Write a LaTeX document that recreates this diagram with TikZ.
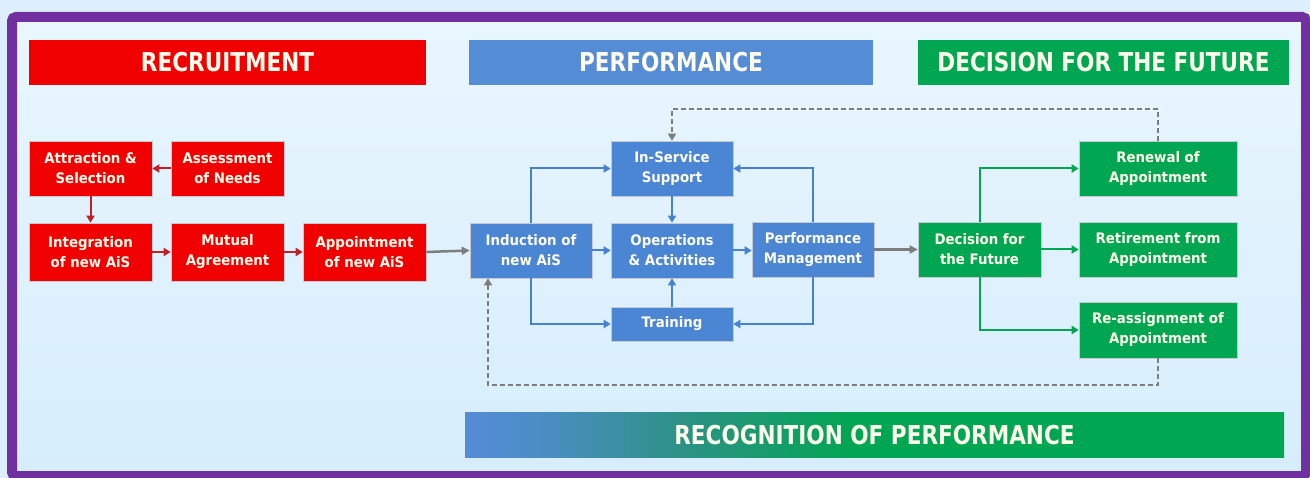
\documentclass[tikz,border=0pt]{standalone}
\usepackage{fontspec}
\usetikzlibrary{arrows.meta,calc}
\newfontfamily\lab[FakeStretch=0.92]{DejaVu Sans}
\newfontfamily\hdr[FakeStretch=0.83]{DejaVu Sans}
\definecolor{outbg}{RGB}{221,239,252}
\definecolor{intop}{RGB}{233,246,254}
\definecolor{inbot}{RGB}{214,237,252}
\definecolor{frame}{RGB}{112,48,160}
\definecolor{cred}{RGB}{240,0,0}
\definecolor{hblue}{RGB}{84,140,214}
\definecolor{nblue}{RGB}{74,134,212}
\definecolor{cgreen}{RGB}{0,166,81}
\definecolor{ared}{RGB}{192,32,40}
\definecolor{ablue}{RGB}{70,130,210}
\definecolor{agreen}{RGB}{0,166,81}
\definecolor{agray}{RGB}{125,125,125}
\definecolor{txt}{RGB}{255,252,236}
\definecolor{teal1}{RGB}{46,145,135}
\pgfdeclarehorizontalshading{recog}{100bp}{color(0bp)=(hblue); color(25bp)=(hblue); color(30bp)=(hblue!75!teal1); color(38bp)=(teal1); color(49bp)=(cgreen); color(100bp)=(cgreen)}
\begin{document}
\begin{tikzpicture}[x=1pt,y=-1pt,
  box/.style={rectangle, draw={rgb,255:red,200;green,200;blue,210}, line width=0.6pt, inner sep=0pt, align=center, text=txt, font=\lab\bfseries\fontsize{14.5}{20}\selectfont},
  rbox/.style={box, fill=cred},
  bbox/.style={box, fill=nblue},
  gbox/.style={box, fill=cgreen},
  hdrbox/.style={rectangle, inner sep=0pt, text=txt, font=\hdr\bfseries\fontsize{26}{30}\selectfont},
  rarr/.style={draw=ared, line width=2pt, -{Triangle[length=7pt,width=8pt]}},
  barr/.style={draw=ablue, line width=2pt, -{Triangle[length=7pt,width=8pt]}},
  garr/.style={draw=agreen, line width=2pt, -{Triangle[length=7pt,width=8pt]}},
  grarr/.style={draw=agray, line width=2.5pt, -{Triangle[length=8pt,width=8pt]}},
  dashline/.style={draw=agray, line width=2pt, dash pattern=on 5pt off 3pt, -{Triangle[length=7pt,width=8pt]}}
]
\useasboundingbox (0,0) rectangle (1310,478);
\fill[outbg] (0,0) rectangle (1310,478);
\shade[top color=intop, bottom color=inbot] (12,17) rectangle (1306,476);
\draw[frame, line width=10pt, rounded corners=4pt] (12,17) rectangle (1306,476);

% headers
\node[hdrbox, fill=cred, minimum width=397pt, minimum height=45pt] (h1) at (227.5,62.5) {RECRUITMENT};
\node[hdrbox, fill=hblue, minimum width=404pt, minimum height=45pt] (h2) at (671,62.5) {PERFORMANCE};
\node[hdrbox, fill=cgreen, minimum width=371pt, minimum height=45pt] (h3) at (1103.5,62.5) {DECISION FOR THE FUTURE};
\node[hdrbox, shading=recog, minimum width=819pt, minimum height=44pt] (h4) at (874.5,435) {RECOGNITION OF PERFORMANCE};

% recruitment
\node[rbox, minimum width=123pt, minimum height=55pt] (att) at (90.5,168.5) {Attraction \&\\Selection};
\node[rbox, minimum width=113pt, minimum height=55pt] (ass) at (227.5,168.5) {Assessment\\of Needs};
\node[rbox, minimum width=123pt, minimum height=58pt] (int) at (90.5,252) {Integration\\of new AiS};
\node[rbox, minimum width=113pt, minimum height=58pt] (mut) at (227.5,252) {Mutual\\Agreement};
\node[rbox, minimum width=123pt, minimum height=58pt] (app) at (364.5,252) {Appointment\\of new AiS};

% performance
\node[bbox, minimum width=122pt, minimum height=55pt] (ind) at (531,250.5) {Induction of\\new AiS};
\node[bbox, minimum width=122pt, minimum height=55pt] (isv) at (672,168.5) {In-Service\\Support};
\node[bbox, minimum width=122pt, minimum height=55pt] (ops) at (672,250.5) {Operations\\\& Activities};
\node[bbox, minimum width=122pt, minimum height=55pt] (pm) at (813,249.5) {Performance\\Management};
\node[bbox, minimum width=122pt, minimum height=34pt] (trn) at (672,324) {Training};

% decision
\node[gbox, minimum width=123pt, minimum height=55pt] (dec) at (979.5,249.5) {Decision for\\the Future};
\node[gbox, minimum width=158pt, minimum height=55pt] (ren) at (1158,168.5) {Renewal of\\Appointment};
\node[gbox, minimum width=158pt, minimum height=55pt] (ret) at (1158,249.5) {Retirement from\\Appointment};
\node[gbox, minimum width=158pt, minimum height=56pt] (rea) at (1158,330) {Re-assignment of\\Appointment};

% recruitment arrows
\draw[rarr] (ass.west) -- (att.east);
\draw[rarr] (att.south) -- (int.north);
\draw[rarr] (int.east) -- (mut.west);
\draw[rarr] (mut.east) -- (app.west);
\draw[grarr] (app.east) -- (ind.west);

% performance arrows
\draw[barr] (ind.north) |- (isv.west);
\draw[barr] (ind.south) |- (trn.west);
\draw[barr] (ind.east) -- (ops.west);
\draw[barr] (isv.south) -- (ops.north);
\draw[barr] (trn.north) -- (ops.south);
\draw[barr] (ops.east) -- (pm.west |- ops.east);
\draw[barr] (pm.north) |- (isv.east);
\draw[barr] (pm.south) |- (trn.east);
\draw[grarr] (pm.east) -- (dec.west);

% decision arrows
\draw[garr] (dec.north) |- (ren.west);
\draw[garr] (dec.east) -- (ret.west);
\draw[garr] (dec.south) |- (rea.west);

% feedback loops
\coordinate (dtop) at (0,109);
\coordinate (dbot) at (0,385);
\coordinate (indb) at ([xshift=-43pt]ind.south);
\draw[dashline] (ren.north) -- (ren.north |- dtop) -| (isv.north);
\draw[dashline] (rea.south) -- (rea.south |- dbot) -| (indb);
\end{tikzpicture}
\end{document}
